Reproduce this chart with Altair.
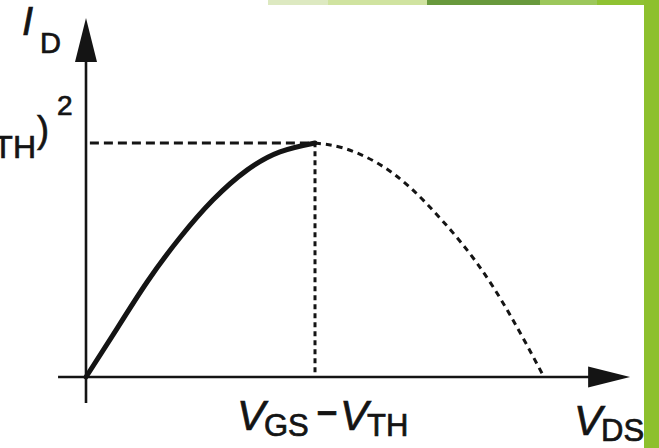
import altair as alt
import pandas as pd

# Normalised units: V_DS in multiples of (V_GS - V_TH), I_D in multiples of its peak value.
triode_vds = [0.0, 0.118, 0.266, 0.410, 0.555, 0.703, 0.847, 1.0]
triode_id = [0.0, 0.180, 0.405, 0.595, 0.757, 0.884, 0.962, 1.0]

# Continuation of the parabola past the peak (not physical, drawn dashed).
beyond_vds = [1.0, 1.122, 1.271, 1.415, 1.559, 1.707, 1.852, 2.0]
beyond_id = [1.0, 0.979, 0.915, 0.810, 0.665, 0.487, 0.265, 0.0]

VOV = 1.0      # V_GS - V_TH
ID_PEAK = 1.0  # peak drain current

# Axis extents (normalised units)
x_axis = [-0.122, 2.30]
y_axis = [-0.111, 1.45]
x_tip = 2.376
y_tip = 1.534

W, H = 659, 448
xs = alt.Scale(domain=[-86 / 229, 573 / 229], nice=False, zero=False)
ys = alt.Scale(domain=[-71 / 234, 377 / 234], nice=False, zero=False)

INK = "#141414"
FONT = "Liberation Sans"


def X(f):
    return alt.X(f, type="quantitative", scale=xs, axis=None)


def Y(f):
    return alt.Y(f, type="quantitative", scale=ys, axis=None)


one = pd.DataFrame({"k": [0]})

# Slide decoration: green strip along the top and bar down the right edge
strip = [
    (268, 328, "#dde9c1"),
    (328, 427, "#d0e3a0"),
    (427, 540, "#68993c"),
    (540, 597, "#9cc75b"),
    (597, 659, "#8fc232"),
]
deco = []
for x0, x1, c in strip:
    deco.append(
        alt.Chart(one).mark_rect(color=c).encode(
            x=alt.value(x0), x2=alt.value(x1), y=alt.value(0), y2=alt.value(5)
        )
    )
deco.append(
    alt.Chart(one).mark_rect(color="#8dc02d").encode(
        x=alt.value(644), x2=alt.value(659), y=alt.value(0), y2=alt.value(H)
    )
)

# Axes with arrowheads
axes_df = pd.DataFrame(
    {"x0": [x_axis[0], 0.0], "x1": [x_axis[1], 0.0], "y0": [0.0, y_axis[0]], "y1": [0.0, y_axis[1]]}
)
axes = alt.Chart(axes_df).mark_rule(color=INK, strokeWidth=2.6).encode(
    x=X("x0"), x2="x1", y=Y("y0"), y2="y1"
)
up_head = alt.Chart(pd.DataFrame({"x": [0.0], "y": [y_tip - 22 / 234]})).mark_point(
    shape="M0,-1L0.5,1L-0.5,1Z", size=1936, filled=True, color=INK, opacity=1, strokeWidth=0
).encode(x=X("x"), y=Y("y"))
right_head = alt.Chart(pd.DataFrame({"x": [x_tip - 21 / 229], "y": [0.0]})).mark_point(
    shape="M1,0L-1,0.5L-1,-0.5Z", size=1764, filled=True, color=INK, opacity=1, strokeWidth=0
).encode(x=X("x"), y=Y("y"))

# Guide lines to the peak
guide_h = alt.Chart(pd.DataFrame({"x0": [0.017], "x1": [VOV], "y": [ID_PEAK]})).mark_rule(
    color=INK, strokeWidth=3, strokeDash=[9, 5]
).encode(x=X("x0"), x2="x1", y=Y("y"))
guide_v = alt.Chart(pd.DataFrame({"x": [VOV], "y0": [0.02], "y1": [ID_PEAK]})).mark_rule(
    color=INK, strokeWidth=3, strokeDash=[5, 4]
).encode(x=X("x"), y=Y("y0"), y2="y1")

triode = alt.Chart(pd.DataFrame({"vds": triode_vds, "id": triode_id})).mark_line(
    color=INK, strokeWidth=5, interpolate="natural", strokeCap="round"
).encode(x=X("vds"), y=Y("id"))
beyond = alt.Chart(pd.DataFrame({"vds": beyond_vds, "id": beyond_id})).mark_line(
    color=INK, strokeWidth=3, strokeDash=[6, 5], interpolate="natural"
).encode(x=X("vds"), y=Y("id"))


def piece(text, ax, ay, dx, dy, size, italic=False, bold=False, align="left"):
    return alt.Chart(pd.DataFrame({"x": [ax], "y": [ay], "t": [text]})).mark_text(
        font=FONT,
        fontSize=size,
        fontStyle="italic" if italic else "normal",
        fontWeight="bold" if bold else "normal",
        align=align,
        baseline="alphabetic",
        dx=dx,
        dy=dy,
        color=INK,
        stroke=INK,
        strokeWidth=0.7,
    ).encode(x=X("x"), y=Y("y"), text="t")


labels = [
    # y-axis title I_D
    piece("I", 0.0, y_tip, -64, 17, 40, italic=True),
    piece("D", 0.0, y_tip, -46, 35, 29),
    # x-axis title V_DS
    piece("V", x_tip, 0.0, -56, 58, 42, italic=True),
    piece("DS", x_tip, 0.0, -29, 64, 31),
    # tick label V_GS - V_TH under the peak
    piece("V", VOV, 0.0, -78, 53, 42, italic=True),
    piece("GS", VOV, 0.0, -51, 59, 31),
    piece("\u2013", VOV, 0.0, 2, 46, 36, bold=True),
    piece("V", VOV, 0.0, 25, 53, 42, italic=True),
    piece("TH", VOV, 0.0, 52, 59, 31),
    # tick label (V_GS - V_TH)^2 level with the peak
    piece("2", 0.0, ID_PEAK, -29, -28, 28),
    piece(")", 0.0, ID_PEAK, -37, -1, 36, align="right"),
    piece("TH", 0.0, ID_PEAK, -50, 15, 32, align="right"),
    piece("V", 0.0, ID_PEAK, -93, 9, 42, italic=True, align="right"),
    piece("\u2013", 0.0, ID_PEAK, -119, 2, 36, bold=True, align="right"),
    piece("GS", 0.0, ID_PEAK, -143, 15, 32, align="right"),
    piece("V", 0.0, ID_PEAK, -189, 9, 42, italic=True, align="right"),
    piece("(", 0.0, ID_PEAK, -217, -1, 36, align="right"),
]

chart = (
    alt.layer(*deco, axes, up_head, right_head, guide_h, guide_v, triode, beyond, *labels)
    .properties(width=W, height=H, autosize=alt.AutoSizeParams(type="none"), padding=0, background="white")
    .configure_view(strokeWidth=0)
)

chart.save("out.html", embed_options={"renderer": "svg", "actions": False})
